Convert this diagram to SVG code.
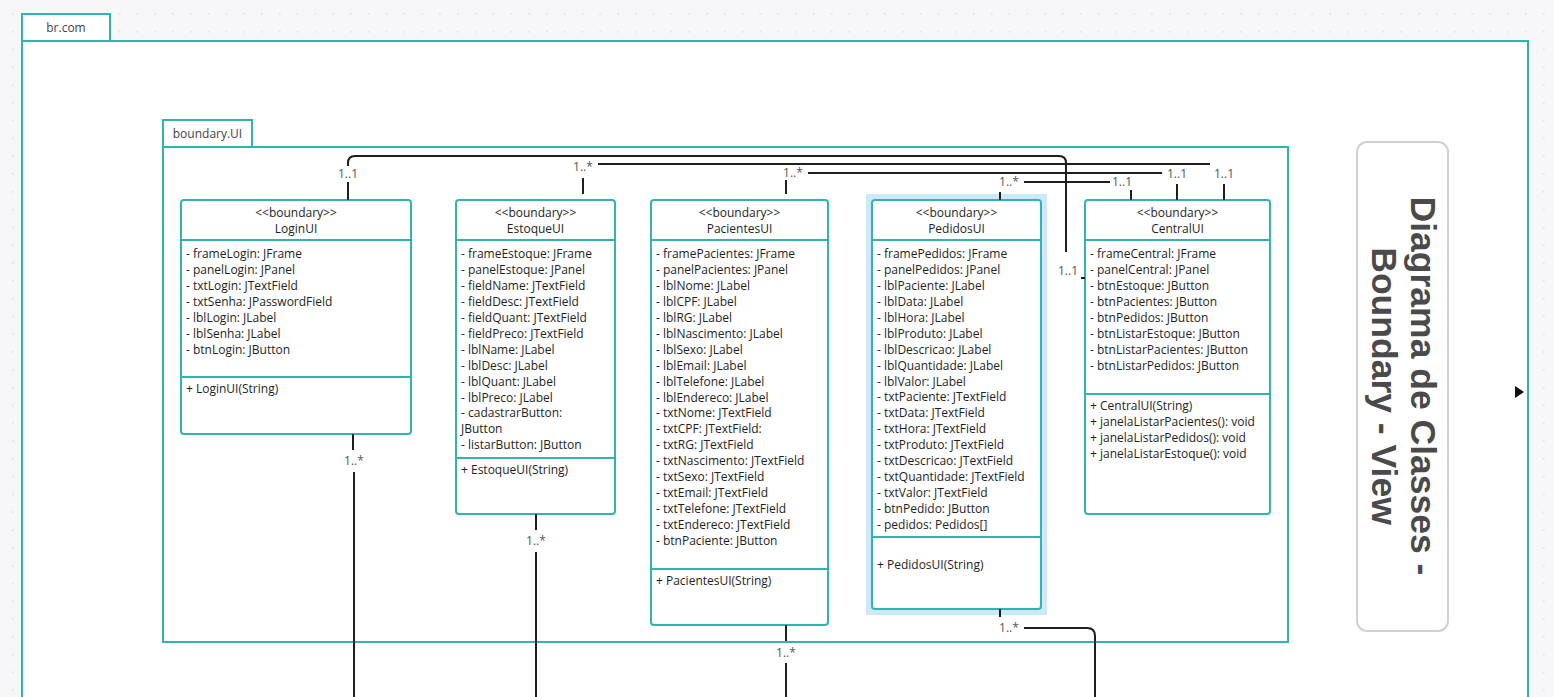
<svg xmlns="http://www.w3.org/2000/svg" width="1554" height="697" viewBox="0 0 1554 697">
<defs>
<pattern id="dots" x="4" y="5" width="17.8" height="17.8" patternUnits="userSpaceOnUse">
<rect x="8" y="8" width="1.6" height="1.6" fill="#dcdce2"/>
</pattern>
<style>
.pkg{fill:#fff;stroke:#2fb5b0;stroke-width:2}
.cls{fill:#fff;stroke:#2fb5b0;stroke-width:2}
.div{stroke:#2fb5b0;stroke-width:2}
.t{font-family:"Open Sans","Noto Sans",sans-serif;font-size:12px;fill:#1e1e1e}
.c{text-anchor:middle}
.lbl{font-family:"Open Sans","Noto Sans",sans-serif;font-size:12px;fill:#555;text-anchor:middle}
.ptab{font-family:"Open Sans","Noto Sans",sans-serif;font-size:12px;fill:#444;text-anchor:middle}
.ln{fill:none;stroke:#1e1e1e;stroke-width:2}
.title{font-family:"Liberation Sans",Arial,sans-serif;font-weight:bold;font-size:35.5px;fill:#4a4a4a;text-anchor:middle}
</style>
</defs>
<rect width="1554" height="697" fill="#f7f7f9"/>
<rect width="1554" height="697" fill="url(#dots)"/>

<g id="pkg-brcom">
<rect class="pkg" x="22" y="14" width="88" height="27"/>
<text class="ptab" x="66" y="32">br.com</text>
<rect class="pkg" x="22" y="41" width="1506" height="670"/>
</g>

<g id="pkg-boundaryUI">
<rect class="pkg" x="163" y="120" width="89" height="27"/>
<text class="ptab" x="207.5" y="138">boundary.UI</text>
<rect class="pkg" x="163" y="147" width="1125" height="495"/>
</g>

<g id="title">
<rect x="1357" y="142" width="91" height="489" rx="10" fill="#fff" stroke="#d3cfcf" stroke-width="2"/>
<text class="title" transform="translate(1411,386) rotate(90)"><tspan x="0" y="0">Diagrama de Classes -</tspan><tspan x="0" y="39">Boundary - View</tspan></text>
</g>

<polygon points="1515,386 1524,392 1515,398" fill="#111"/>

<g id="LoginUI">
<rect class="cls" x="181" y="200" width="230" height="234" rx="3"/>
<line class="div" x1="181" y1="240" x2="411" y2="240"/>
<line class="div" x1="181" y1="377" x2="411" y2="377"/>
<text class="t c" x="296" y="217">&lt;&lt;boundary&gt;&gt;</text>
<text class="t c" x="296" y="233">LoginUI</text>
<text class="t" x="186" y="258">- frameLogin: JFrame</text>
<text class="t" x="186" y="274">- panelLogin: JPanel</text>
<text class="t" x="186" y="290">- txtLogin: JTextField</text>
<text class="t" x="186" y="306">- txtSenha: JPasswordField</text>
<text class="t" x="186" y="322">- lblLogin: JLabel</text>
<text class="t" x="186" y="338">- lblSenha: JLabel</text>
<text class="t" x="186" y="354">- btnLogin: JButton</text>
<text class="t" x="186" y="393">+ LoginUI(String)</text>
</g>

<g id="EstoqueUI">
<rect class="cls" x="456" y="200" width="159" height="314" rx="3"/>
<line class="div" x1="456" y1="240" x2="615" y2="240"/>
<line class="div" x1="456" y1="458" x2="615" y2="458"/>
<text class="t c" x="535.5" y="217">&lt;&lt;boundary&gt;&gt;</text>
<text class="t c" x="535.5" y="233">EstoqueUI</text>
<text class="t" x="461" y="258">- frameEstoque: JFrame</text>
<text class="t" x="461" y="274">- panelEstoque: JPanel</text>
<text class="t" x="461" y="290">- fieldName: JTextField</text>
<text class="t" x="461" y="306">- fieldDesc: JTextField</text>
<text class="t" x="461" y="322">- fieldQuant: JTextField</text>
<text class="t" x="461" y="338">- fieldPreco: JTextField</text>
<text class="t" x="461" y="354">- lblName: JLabel</text>
<text class="t" x="461" y="370">- lblDesc: JLabel</text>
<text class="t" x="461" y="386">- lblQuant: JLabel</text>
<text class="t" x="461" y="402">- lblPreco: JLabel</text>
<text class="t" x="461" y="417">- cadastrarButton:</text>
<text class="t" x="461" y="433">JButton</text>
<text class="t" x="461" y="449">- listarButton: JButton</text>
<text class="t" x="461" y="474">+ EstoqueUI(String)</text>
</g>

<g id="PacientesUI">
<rect class="cls" x="651" y="200" width="177" height="425" rx="3"/>
<line class="div" x1="651" y1="240" x2="828" y2="240"/>
<line class="div" x1="651" y1="569" x2="828" y2="569"/>
<text class="t c" x="739.5" y="217">&lt;&lt;boundary&gt;&gt;</text>
<text class="t c" x="739.5" y="233">PacientesUI</text>
<text class="t" x="656" y="258">- framePacientes: JFrame</text>
<text class="t" x="656" y="274">- panelPacientes: JPanel</text>
<text class="t" x="656" y="290">- lblNome: JLabel</text>
<text class="t" x="656" y="306">- lblCPF: JLabel</text>
<text class="t" x="656" y="322">- lblRG: JLabel</text>
<text class="t" x="656" y="338">- lblNascimento: JLabel</text>
<text class="t" x="656" y="354">- lblSexo: JLabel</text>
<text class="t" x="656" y="370">- lblEmail: JLabel</text>
<text class="t" x="656" y="386">- lblTelefone: JLabel</text>
<text class="t" x="656" y="402">- lblEndereco: JLabel</text>
<text class="t" x="656" y="417">- txtNome: JTextField</text>
<text class="t" x="656" y="433">- txtCPF: JTextField:</text>
<text class="t" x="656" y="449">- txtRG: JTextField</text>
<text class="t" x="656" y="465">- txtNascimento: JTextField</text>
<text class="t" x="656" y="481">- txtSexo: JTextField</text>
<text class="t" x="656" y="497">- txtEmail: JTextField</text>
<text class="t" x="656" y="513">- txtTelefone: JTextField</text>
<text class="t" x="656" y="529">- txtEndereco: JTextField</text>
<text class="t" x="656" y="545">- btnPaciente: JButton</text>
<text class="t" x="656" y="585">+ PacientesUI(String)</text>
</g>

<g id="PedidosUI">
<rect x="866" y="194" width="181" height="421" fill="#cfe8f8"/>
<rect class="cls" x="872" y="200" width="169" height="409" rx="3"/>
<line class="div" x1="872" y1="240" x2="1041" y2="240"/>
<line class="div" x1="872" y1="537" x2="1041" y2="537"/>
<text class="t c" x="956.5" y="217">&lt;&lt;boundary&gt;&gt;</text>
<text class="t c" x="956.5" y="233">PedidosUI</text>
<text class="t" x="877" y="258">- framePedidos: JFrame</text>
<text class="t" x="877" y="274">- panelPedidos: JPanel</text>
<text class="t" x="877" y="290">- lblPaciente: JLabel</text>
<text class="t" x="877" y="306">- lblData: JLabel</text>
<text class="t" x="877" y="322">- lblHora: JLabel</text>
<text class="t" x="877" y="338">- lblProduto: JLabel</text>
<text class="t" x="877" y="354">- lblDescricao: JLabel</text>
<text class="t" x="877" y="370">- lblQuantidade: JLabel</text>
<text class="t" x="877" y="386">- lblValor: JLabel</text>
<text class="t" x="877" y="401">- txtPaciente: JTextField</text>
<text class="t" x="877" y="417">- txtData: JTextField</text>
<text class="t" x="877" y="433">- txtHora: JTextField</text>
<text class="t" x="877" y="449">- txtProduto: JTextField</text>
<text class="t" x="877" y="465">- txtDescricao: JTextField</text>
<text class="t" x="877" y="481">- txtQuantidade: JTextField</text>
<text class="t" x="877" y="497">- txtValor: JTextField</text>
<text class="t" x="877" y="513">- btnPedido: JButton</text>
<text class="t" x="877" y="529">- pedidos: Pedidos[]</text>
<text class="t" x="877" y="569">+ PedidosUI(String)</text>
</g>

<g id="CentralUI">
<rect class="cls" x="1085" y="200" width="185" height="314" rx="3"/>
<line class="div" x1="1085" y1="240" x2="1270" y2="240"/>
<line class="div" x1="1085" y1="394" x2="1270" y2="394"/>
<text class="t c" x="1177.5" y="217">&lt;&lt;boundary&gt;&gt;</text>
<text class="t c" x="1177.5" y="233">CentralUI</text>
<text class="t" x="1090" y="258">- frameCentral: JFrame</text>
<text class="t" x="1090" y="274">- panelCentral: JPanel</text>
<text class="t" x="1090" y="290">- btnEstoque: JButton</text>
<text class="t" x="1090" y="306">- btnPacientes: JButton</text>
<text class="t" x="1090" y="322">- btnPedidos: JButton</text>
<text class="t" x="1090" y="338">- btnListarEstoque: JButton</text>
<text class="t" x="1090" y="354">- btnListarPacientes: JButton</text>
<text class="t" x="1090" y="370">- btnListarPedidos: JButton</text>
<text class="t" x="1090" y="410">+ CentralUI(String)</text>
<text class="t" x="1090" y="426">+ janelaListarPacientes(): void</text>
<text class="t" x="1090" y="442">+ janelaListarPedidos(): void</text>
<text class="t" x="1090" y="458">+ janelaListarEstoque(): void</text>
</g>

<g id="connectors">
<!-- LoginUI - CentralUI -->
<path class="ln" d="M348,200 V182"/>
<text class="lbl" x="348" y="178">1..1</text>
<path class="ln" d="M348,166 V163 Q348,156 355,156 H1059 Q1066,156 1066,163 V252"/>
<text class="lbl" x="1068" y="275">1..1</text>
<path class="ln" d="M1081,278 H1085"/>
<!-- EstoqueUI - CentralUI -->
<path class="ln" d="M583,178 V194"/>
<text class="lbl" x="583" y="171">1..*</text>
<path class="ln" d="M598,164 H1210"/>
<text class="lbl" x="1224" y="178">1..1</text>
<path class="ln" d="M1224,184 V200"/>
<!-- PacientesUI - CentralUI -->
<path class="ln" d="M786,180 V194"/>
<text class="lbl" x="793" y="177">1..*</text>
<path class="ln" d="M808,173 H1162"/>
<text class="lbl" x="1177" y="178">1..1</text>
<path class="ln" d="M1177,184 V200"/>
<!-- PedidosUI - CentralUI -->
<path class="ln" d="M1000,192 V200"/>
<text class="lbl" x="1009" y="186">1..*</text>
<path class="ln" d="M1024,182 H1110"/>
<text class="lbl" x="1122" y="186">1..1</text>
<path class="ln" d="M1131,190 V200"/>
<!-- bottom -->
<path class="ln" d="M353,434 V450"/>
<text class="lbl" x="354" y="465">1..*</text>
<path class="ln" d="M354,472 V697"/>
<path class="ln" d="M536,514 V530"/>
<text class="lbl" x="536" y="545">1..*</text>
<path class="ln" d="M536,552 V697"/>
<path class="ln" d="M786,625 V641"/>
<text class="lbl" x="786" y="657">1..*</text>
<path class="ln" d="M786,663 V697"/>
<path class="ln" d="M1000,609 V617"/>
<text class="lbl" x="1009" y="632">1..*</text>
<path class="ln" d="M1024,628 H1087 Q1095,628 1095,636 V697"/>
</g>
</svg>
